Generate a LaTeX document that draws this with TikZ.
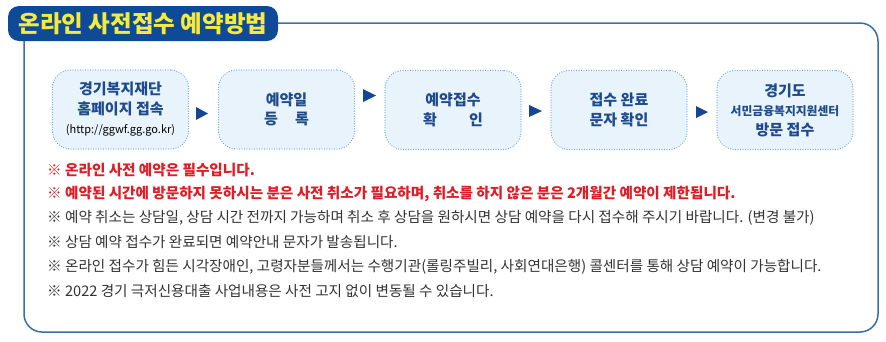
\documentclass[tikz,border=0pt]{standalone}
\usepackage{fontspec}
\setmainfont{Noto Sans CJK KR}
\usetikzlibrary{shapes.geometric}
\definecolor{titlebg}{HTML}{0E4A98}
\definecolor{titley}{HTML}{F6EA3C}
\definecolor{framec}{HTML}{3A6EA5}
\definecolor{boxfill}{HTML}{E8F3FC}
\definecolor{boxdot}{HTML}{6EAAD7}
\definecolor{boxtext}{HTML}{1E4B8C}
\definecolor{arrowc}{HTML}{144691}
\definecolor{notered}{HTML}{DC1E28}
\definecolor{notegray}{HTML}{333333}
\begin{document}
\begin{tikzpicture}[x=1pt,y=-1pt,
  stepbox/.style={draw=boxdot, fill=boxfill, rounded corners=18pt,
    dash pattern=on 0pt off 2.5pt, line cap=round, line width=1.3pt,
    minimum width=136pt, minimum height=79pt, text=boxtext,
    font=\bfseries\fontsize{15}{19.5}\selectfont, align=center, inner sep=0pt},
  note/.style={anchor=west, inner sep=0pt, text=notegray,
    font=\fontsize{14.6}{16}\selectfont},
  rednote/.style={note, text=notered, font=\bfseries\fontsize{14.6}{16}\selectfont},
  tri/.style={fill=arrowc}
]
\useasboundingbox (0,0) rectangle (886,341);
\fill[white] (0,0) rectangle (886,341);
% frame
\draw[framec, line width=1.5pt, rounded corners=18pt]
  (278,23) -- (878,23) -- (878,332) -- (24,332) -- (24,41);
% title
\node[fill=titlebg, rounded corners=11pt, minimum width=270pt, minimum height=35pt,
  text=titley, font=\bfseries\fontsize{23.5}{23.5}\selectfont, inner sep=0pt]
  (title) at (143,23.5) {온라인 사전접수 예약방법};
% steps
\node[stepbox] (b1) at (120.5,109.5) {경기복지재단\\홈페이지 접속\\{\mdseries\color{black}\fontsize{11}{14}\selectfont (http://ggwf.gg.go.kr)}};
\node[stepbox] (b2) at (286.5,109.5) {예약일\\\makebox[3em][s]{등\hfill 록}};
\node[stepbox] (b3) at (453,110) {예약접수\\\makebox[4em][s]{확\hfill 인}};
\node[stepbox] (b4) at (619,110) {접수 완료\\문자 확인};
\node[stepbox] (b5) at (785,110) {경기도\\{\fontsize{11.8}{19}\selectfont 서민금융복지지원센터}\\방문 접수};
% arrow markers
\fill[tri] (196,107) -- (208,113.5) -- (196,120) -- cycle;
\fill[tri] (363,89) -- (376,95.5) -- (363,102) -- cycle;
\fill[tri] (529,105) -- (542,111) -- (529,117) -- cycle;
\fill[tri] (696,106) -- (708,112) -- (696,118) -- cycle;
% notes
\node[rednote] (n1) at (47,170) {※ 온라인 사전 예약은 필수입니다.};
\node[rednote] (n2) at (47,194) {※ 예약된 시간에 방문하지 못하시는 분은 사전 취소가 필요하며, 취소를 하지 않은 분은 2개월간 예약이 제한됩니다.};
\node[note] (n3) at (47,218) {※ 예약 취소는 상담일, 상담 시간 전까지 가능하며 취소 후 상담을 원하시면 상담 예약을 다시 접수해 주시기 바랍니다. (변경 불가)};
\node[note] (n4) at (47,242.5) {※ 상담 예약 접수가 완료되면 예약안내 문자가 발송됩니다.};
\node[note] (n5) at (47,267) {※ 온라인 접수가 힘든 시각장애인, 고령자분들께서는 수행기관(롤링주빌리, 사회연대은행) 콜센터를 통해 상담 예약이 가능합니다.};
\node[note] (n6) at (47,291.5) {※ 2022 경기 극저신용대출 사업내용은 사전 고지 없이 변동될 수 있습니다.};
\end{tikzpicture}
\end{document}
